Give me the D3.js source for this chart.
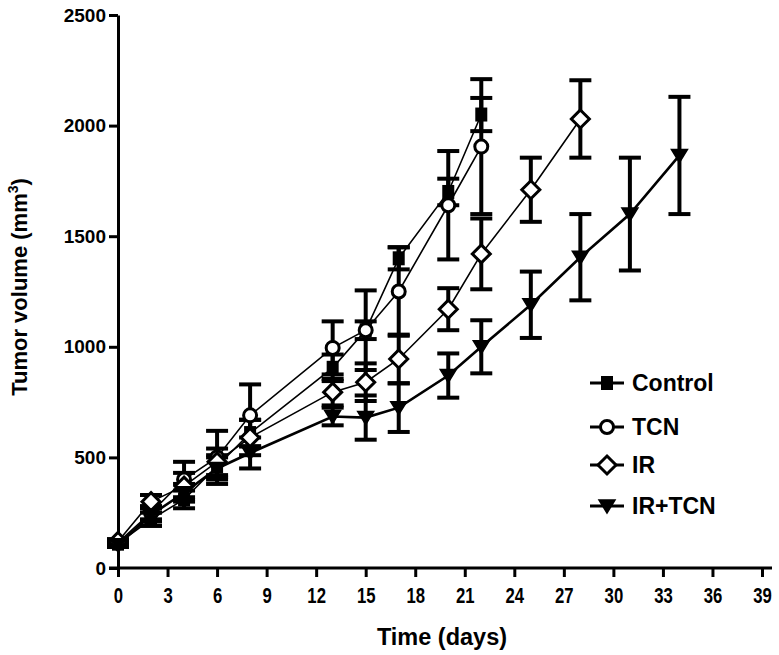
<!DOCTYPE html>
<html>
<head>
<meta charset="utf-8">
<script src="https://cdn.jsdelivr.net/npm/d3@7"></script>
<style>
  body { margin: 0; background: #fff; }
  text { font-family: "Liberation Sans", Arial, sans-serif; font-weight: bold; }
</style>
</head>
<body>
<svg id="chart" width="779" height="655"></svg>
<script>
// data
const xTicks = [0, 3, 6, 9, 12, 15, 18, 21, 24, 27, 30, 33, 36, 39];
const yTicks = [0, 500, 1000, 1500, 2000, 2500];

const controlDays = [0, 2, 4, 6, 8, 13, 15, 17, 20, 22];
const controlVals = [110, 220, 310, 460, 610, 905, 1075, 1400, 1700, 2050];
const controlErr  = [10, 30, 40, 50, 60, 60, 40, 50, 60, 75];

const tcnDays = [0, 2, 4, 6, 8, 13, 15, 17, 20, 22];
const tcnVals = [115, 250, 400, 500, 690, 995, 1075, 1250, 1640, 1905];
const tcnErr  = [15, 30, 80, 120, 140, 120, 180, 200, 245, 305];

const irDays = [0, 2, 4, 6, 8, 13, 15, 17, 20, 22, 25, 28];
const irVals = [120, 300, 370, 480, 590, 795, 840, 945, 1170, 1420, 1710, 2030];
const irErr  = [10, 30, 60, 60, 80, 60, 85, 110, 95, 160, 145, 175];

const combDays = [0, 2, 4, 6, 8, 13, 15, 17, 20, 22, 25, 28, 31, 34];
const combVals = [105, 240, 340, 450, 520, 685, 680, 725, 870, 1000, 1190, 1405, 1600, 1865];
const combErr  = [10, 30, 40, 50, 70, 40, 100, 110, 100, 120, 150, 195, 255, 265];

const seriesNames = ["Control", "TCN", "IR", "IR+TCN"];

const svg = d3.select("#chart");
const x = d3.scaleLinear().domain([0, 39]).range([118, 762]);
const y = d3.scaleLinear().domain([0, 2500]).range([568, 15]);

// axes
const xAxis = svg.append("g")
  .attr("transform", "translate(0,568)")
  .call(d3.axisBottom(x).tickValues(xTicks).tickFormat(d3.format("d")).tickSize(9).tickSizeOuter(0));
xAxis.select(".domain").attr("d", "M109,0H772");
const yAxis = svg.append("g")
  .attr("transform", "translate(118,0)")
  .call(d3.axisLeft(y).tickValues(yTicks).tickFormat(d3.format("d")).tickSize(9).tickPadding(3).tickSizeOuter(0));
svg.selectAll(".domain, .tick line").attr("stroke", "#000").attr("stroke-width", 3);
svg.selectAll(".tick text").attr("fill", "#000");
yAxis.selectAll(".tick text").attr("font-size", 19);
xAxis.selectAll(".tick text")
  .attr("font-size", 22)
  .attr("y", 35).attr("dy", null)
  .attr("transform", "scale(0.76,1)");

svg.append("text")
  .attr("x", 442).attr("y", 645)
  .attr("text-anchor", "middle")
  .attr("font-size", 23.5)
  .text("Time (days)");

const yl = svg.append("text")
  .attr("transform", "translate(27,287) rotate(-90)")
  .attr("text-anchor", "middle")
  .attr("font-size", 22);
yl.append("tspan").text("Tumor volume (mm");
yl.append("tspan").attr("font-size", 14).attr("dy", -9).text("3");
yl.append("tspan").attr("dy", 9).text(")");

const series = [
  { name: seriesNames[0], days: controlDays, vals: controlVals, err: controlErr, shape: "square", lw: 1.6 },
  { name: seriesNames[1], days: tcnDays, vals: tcnVals, err: tcnErr, shape: "circle", lw: 1.6 },
  { name: seriesNames[2], days: irDays, vals: irVals, err: irErr, shape: "diamond", lw: 1.6 },
  { name: seriesNames[3], days: combDays, vals: combVals, err: combErr, shape: "triangle", lw: 2.6 }
];

function marker(g, shape) {
  if (shape === "square") {
    g.append("rect").attr("x", -6).attr("y", -7).attr("width", 12).attr("height", 14).attr("fill", "#000");
  } else if (shape === "circle") {
    g.append("circle").attr("r", 6.5).attr("fill", "#fff").attr("stroke", "#000").attr("stroke-width", 3);
  } else if (shape === "diamond") {
    g.append("path").attr("d", "M0,-9L9,0L0,9L-9,0Z").attr("fill", "#fff").attr("stroke", "#000").attr("stroke-width", 3);
  } else {
    g.append("path").attr("d", "M-8,-6L8,-6L0,7Z").attr("fill", "#000").attr("stroke", "#000").attr("stroke-width", 1.5);
  }
}

const line = d3.line();
series.forEach(s => {
  const pts = s.days.map((d, i) => [x(d), y(s.vals[i])]);
  svg.append("path").attr("d", line(pts)).attr("fill", "none")
    .attr("stroke", "#000").attr("stroke-width", s.lw);
});

series.forEach(s => {
  const g = svg.append("g").attr("stroke", "#000").attr("stroke-width", 4);
  s.days.forEach((d, i) => {
    const cx = x(d), y1 = y(s.vals[i] + s.err[i]), y2 = y(s.vals[i] - s.err[i]);
    g.append("line").attr("x1", cx).attr("x2", cx).attr("y1", y1).attr("y2", y2);
    g.append("line").attr("x1", cx - 11).attr("x2", cx + 11).attr("y1", y1).attr("y2", y1);
    g.append("line").attr("x1", cx - 11).attr("x2", cx + 11).attr("y1", y2).attr("y2", y2);
  });
});

series.forEach(s => {
  s.days.forEach((d, i) => {
    const g = svg.append("g").attr("transform", `translate(${x(d)},${y(s.vals[i])})`);
    marker(g, s.shape);
  });
});

// legend
const legY = [383, 427, 465, 506];
series.forEach((s, i) => {
  const g = svg.append("g").attr("transform", `translate(607,${legY[i]})`);
  g.append("line").attr("x1", -17).attr("x2", 17).attr("stroke", "#000").attr("stroke-width", 3);
  marker(g, s.shape);
  g.append("text").attr("x", 25).attr("y", 8).attr("font-size", 23).text(s.name);
});
</script>
</body>
</html>
